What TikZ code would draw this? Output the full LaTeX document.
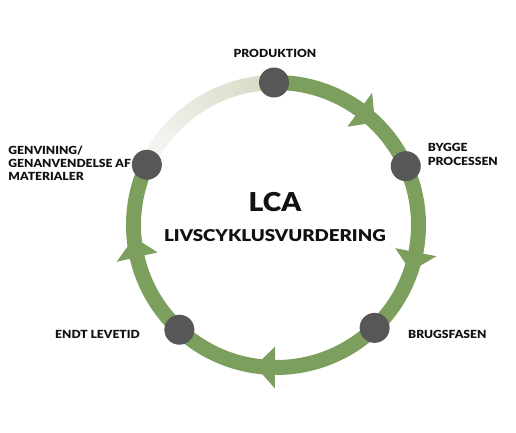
\documentclass[tikz,border=0pt]{standalone}
\usepackage{fontspec}
\setmainfont{Lato Black}[FakeStretch=1.08]
\definecolor{bandgreen}{HTML}{7D9F5D}
\definecolor{fadestart}{HTML}{F8F8F6}
\definecolor{fadeend}{HTML}{D4DBC4}
\definecolor{dotgray}{HTML}{575757}
\definecolor{txt}{HTML}{111111}
\begin{document}
\begin{tikzpicture}[x=1pt,y=1pt,
  dot/.style={circle,fill=dotgray,minimum size=30pt,inner sep=0pt},
  lbl/.style={inner sep=0pt,text=txt,font=\fontsize{11.2}{14}\selectfont},
  band/.style={line width=15pt},
  arrowhd/.style={fill=bandgreen}]
\useasboundingbox (-276,225) rectangle (240,-208);
\def\R{142.5}
% green band, clockwise from PRODUKTION to GENVINING
\draw[band,bandgreen] (91:\R) arc[start angle=91,end angle=-205,radius=\R];
% fading band from GENVINING to PRODUKTION
\foreach \i in {0,...,59}{
  \pgfmathsetmacro\a{155-\i*64/60}
  \pgfmathsetmacro\b{\a-64/60-0.4}
  \pgfmathtruncatemacro\p{100*\i/59}
  \draw[band,fadeend!\p!fadestart] (\a:\R) arc[start angle=\a,end angle=\b,radius=\R];
}
% arrowheads
\foreach \t in {54,-11,-90.4,193}{
  \fill[arrowhd] (\t:\R+21) -- (\t-8:\R) -- (\t:\R-21) -- cycle;
}
% stage dots
\node[dot] (prod) at (90.8:\R) {};
\node[dot] (bygge) at (24.4:\R) {};
\node[dot] (brug) at (-46.2:\R) {};
\node[dot] (endt) at (-132.7:\R) {};
\node[dot] (genv) at (155:\R) {};
% labels
\node[lbl,anchor=base] (lprod) at (-1,167.7) {PRODUKTION};
\node[lbl,anchor=north west,align=left] (lbygge) at (151.7,82) {BYGGE\\PROCESSEN};
\node[lbl,anchor=base west] (lbrug) at (132,-113) {BRUGSFASEN};
\node[lbl,anchor=base east] (lendt) at (-136,-113) {ENDT LEVETID};
\node[lbl,anchor=north west,align=left,font=\fontsize{11.2}{12.8}\selectfont] (lgenv) at (-267.7,79) {GENVINING/\\GENANVENDELSE AF\\MATERIALER};
\node[lbl,anchor=base,font=\fontsize{26}{30}\selectfont] (lca) at (-1,13.7) {LCA};
\node[lbl,anchor=base,font=\fontsize{16.3}{19}\selectfont] (livs) at (-1,-16.5) {\addfontfeature{FakeStretch=1.15}LIVSCYKLUSVURDERING};
\end{tikzpicture}
\end{document}
